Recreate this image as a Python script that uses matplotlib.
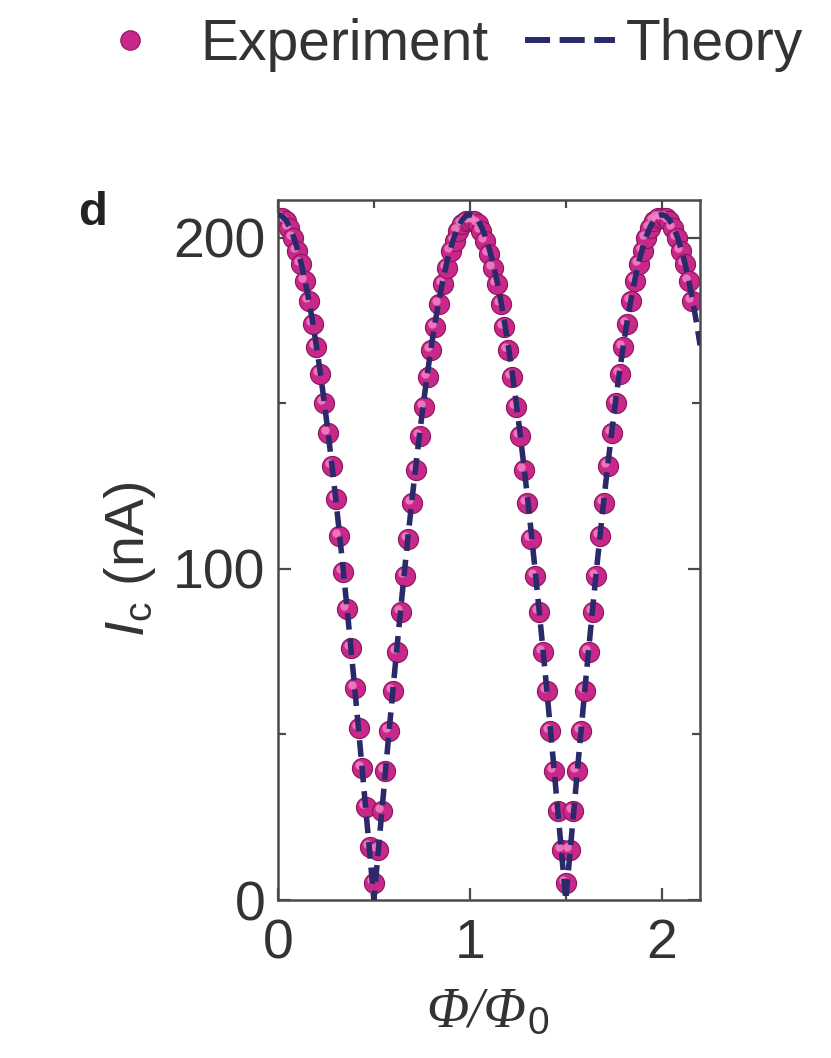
import matplotlib
matplotlib.use('Agg')

import matplotlib.pyplot as plt
import matplotlib.transforms as mtransforms
from matplotlib.lines import Line2D
from matplotlib.ticker import MultipleLocator

# -------------------------
# Data
# -------------------------
phi_exp = [0.00, 0.02, 0.04, 0.06, 0.08, 0.10, 0.12, 0.14, 0.16, 0.18,
           0.20, 0.22, 0.24, 0.26, 0.28, 0.30, 0.32, 0.34, 0.36, 0.38,
           0.40, 0.42, 0.44, 0.46, 0.48, 0.50, 0.52, 0.54, 0.56, 0.58,
           0.60, 0.62, 0.64, 0.66, 0.68, 0.70, 0.72, 0.74, 0.76, 0.78,
           0.80, 0.82, 0.84, 0.86, 0.88, 0.90, 0.92, 0.94, 0.96, 0.98,
           1.00, 1.02, 1.04, 1.06, 1.08, 1.10, 1.12, 1.14, 1.16, 1.18,
           1.20, 1.22, 1.24, 1.26, 1.28, 1.30, 1.32, 1.34, 1.36, 1.38,
           1.40, 1.42, 1.44, 1.46, 1.48, 1.50, 1.52, 1.54, 1.56, 1.58,
           1.60, 1.62, 1.64, 1.66, 1.68, 1.70, 1.72, 1.74, 1.76, 1.78,
           1.80, 1.82, 1.84, 1.86, 1.88, 1.90, 1.92, 1.94, 1.96, 1.98,
           2.00, 2.02, 2.04, 2.06, 2.08, 2.10, 2.12, 2.14, 2.16]
ic_exp = [206, 206, 205, 203, 200, 196, 192, 187, 181, 174,
          167, 159, 150, 141, 131, 121, 110, 99, 88, 76,
          64, 52, 40, 28, 16, 5, 15, 27, 39, 51,
          63, 75, 87, 98, 109, 120, 130, 140, 149, 158,
          166, 173, 180, 186, 191, 196, 199, 202, 204, 205,
          205, 205, 204, 202, 199, 195, 191, 186, 180, 173,
          166, 158, 149, 140, 130, 120, 109, 98, 87, 75,
          63, 51, 39, 27, 15, 5, 15, 27, 39, 51,
          63, 75, 87, 98, 110, 120, 131, 141, 150, 159,
          167, 174, 181, 187, 192, 196, 200, 203, 205, 206,
          206, 206, 205, 203, 200, 196, 192, 187, 181]

phi_th = [0.00, 0.02, 0.04, 0.06, 0.08, 0.10, 0.12, 0.14, 0.16, 0.18,
          0.20, 0.22, 0.24, 0.26, 0.28, 0.30, 0.32, 0.34, 0.36, 0.38,
          0.40, 0.42, 0.44, 0.46, 0.48, 0.50, 0.52, 0.54, 0.56, 0.58,
          0.60, 0.62, 0.64, 0.66, 0.68, 0.70, 0.72, 0.74, 0.76, 0.78,
          0.80, 0.82, 0.84, 0.86, 0.88, 0.90, 0.92, 0.94, 0.96, 0.98,
          1.00, 1.02, 1.04, 1.06, 1.08, 1.10, 1.12, 1.14, 1.16, 1.18,
          1.20, 1.22, 1.24, 1.26, 1.28, 1.30, 1.32, 1.34, 1.36, 1.38,
          1.40, 1.42, 1.44, 1.46, 1.48, 1.50, 1.52, 1.54, 1.56, 1.58,
          1.60, 1.62, 1.64, 1.66, 1.68, 1.70, 1.72, 1.74, 1.76, 1.78,
          1.80, 1.82, 1.84, 1.86, 1.88, 1.90, 1.92, 1.94, 1.96, 1.98,
          2.00, 2.02, 2.04, 2.06, 2.08, 2.10, 2.12, 2.14, 2.16, 2.18,
          2.20]
ic_th = [207.0, 206.6, 205.4, 203.3, 200.5, 196.9, 192.5, 187.3, 181.4, 174.8,
         167.5, 159.5, 150.9, 141.7, 131.9, 121.7, 110.9, 99.7, 88.1, 76.2,
         64.0, 51.5, 38.8, 25.9, 13.0, 0.0, 13.0, 25.9, 38.8, 51.5,
         64.0, 76.2, 88.1, 99.7, 110.9, 121.7, 131.9, 141.7, 150.9, 159.5,
         167.5, 174.8, 181.4, 187.3, 192.5, 196.9, 200.5, 203.3, 205.4, 206.6,
         207.0, 206.6, 205.4, 203.3, 200.5, 196.9, 192.5, 187.3, 181.4, 174.8,
         167.5, 159.5, 150.9, 141.7, 131.9, 121.7, 110.9, 99.7, 88.1, 76.2,
         64.0, 51.5, 38.8, 25.9, 13.0, 0.0, 13.0, 25.9, 38.8, 51.5,
         64.0, 76.2, 88.1, 99.7, 110.9, 121.7, 131.9, 141.7, 150.9, 159.5,
         167.5, 174.8, 181.4, 187.3, 192.5, 196.9, 200.5, 203.3, 205.4, 206.6,
         207.0, 206.6, 205.4, 203.3, 200.5, 196.9, 192.5, 187.3, 181.4, 174.8,
         167.5]

xticks = [0, 1, 2]
yticks = [0, 100, 200]

# -------------------------
# Style
# -------------------------
plt.rcParams['font.family'] = ['Liberation Sans', 'DejaVu Sans']
plt.rcParams['mathtext.fontset'] = 'custom'
plt.rcParams['mathtext.rm'] = 'Liberation Sans'
plt.rcParams['mathtext.it'] = 'Liberation Sans:italic'
plt.rcParams['mathtext.sf'] = 'Liberation Sans:italic'

fs = 40
fs_leg = 41
spine_col = '#4a4a4a'
text_col  = '#333333'
dot_col   = '#c8288a'
dot_edge  = '#8a165e'
hi_col    = '#f284c6'
line_col  = '#2a2a6a'

fig = plt.figure(figsize=(8.31, 10.58), dpi=100)
ax  = fig.add_axes([0.3345, 0.1493, 0.508, 0.662])

# -------------------------
# Experiment (shaded spheres) and theory
# -------------------------
ax.plot(phi_exp, ic_exp, ls='none', marker='o', ms=14.5,
        mfc=dot_col, mec=dot_edge, mew=0.8, zorder=2)
hi_tr = mtransforms.offset_copy(ax.transData, fig=fig, x=-3, y=3, units='dots')
ax.plot(phi_exp, ic_exp, ls='none', marker='o', ms=6,
        mfc=hi_col, mec='none', alpha=0.85, transform=hi_tr, zorder=2.1)

ax.plot(phi_th, ic_th, color=line_col, lw=4, dashes=(3, 1.6),
        dash_capstyle='butt', zorder=3)

# -------------------------
# Axes formatting
# -------------------------
ax.set_xlim(0, 2.2)
ax.set_ylim(0, 211.5)
ax.set_xticks(xticks)
ax.set_yticks(yticks)
ax.xaxis.set_minor_locator(MultipleLocator(0.5))
ax.yaxis.set_minor_locator(MultipleLocator(50))
ax.tick_params(which='both', direction='in', top=True, right=True,
               color=spine_col, width=1.6, labelsize=fs, labelcolor=text_col)
ax.tick_params(axis='x', pad=13)
ax.tick_params(axis='y', pad=9)
ax.tick_params(which='major', length=9)
ax.tick_params(which='minor', length=6)
for s in ax.spines.values():
    s.set_color(spine_col)
    s.set_linewidth(1.8)

ax.set_ylabel(r'$I_\mathrm{c}$ (nA)', fontsize=fs, color=text_col)
ax.yaxis.set_label_coords(-0.285, 0.486)

# x label: italic serif Phi with an upright sans subscript
xl = ax.text(0.47, -0.16, 'Φ/Φ', transform=ax.transAxes, fontsize=fs,
             family='Liberation Serif', style='italic', color=text_col,
             ha='center', va='center')
fig.canvas.draw()
bb = xl.get_window_extent()
fig.text((bb.x1 + 1) / fig.bbox.width, (bb.y0 - 4) / fig.bbox.height, '0',
         fontsize=28, color=text_col, ha='left', va='bottom')

fig.text(0.111, 0.799, 'd', fontsize=34, fontweight='bold',
         ha='center', va='center', color='#222222')

# -------------------------
# Legend (two pieces so each handle gets its own spacing)
# -------------------------
h_exp = Line2D([], [], ls='none', marker='o', ms=14, mfc=dot_col, mec=dot_edge, mew=0.8)
h_th  = Line2D([], [], color=line_col, lw=4.3, dashes=(4.2, 1.6))
leg_y = 0.9575
leg1 = fig.legend([h_exp], ['Experiment'], frameon=False, loc='center left',
                  bbox_to_anchor=(0.122, leg_y), fontsize=fs_leg, borderpad=0,
                  borderaxespad=0, handlelength=1.0, handletextpad=0.73)
leg2 = fig.legend([h_th], ['Theory'], frameon=False, loc='center left',
                  bbox_to_anchor=(0.632, leg_y), fontsize=fs_leg, borderpad=0,
                  borderaxespad=0, handlelength=1.58, handletextpad=0.18)
for leg in (leg1, leg2):
    for t in leg.get_texts():
        t.set_color(text_col)

plt.savefig('out.png', dpi=100)
plt.close()
